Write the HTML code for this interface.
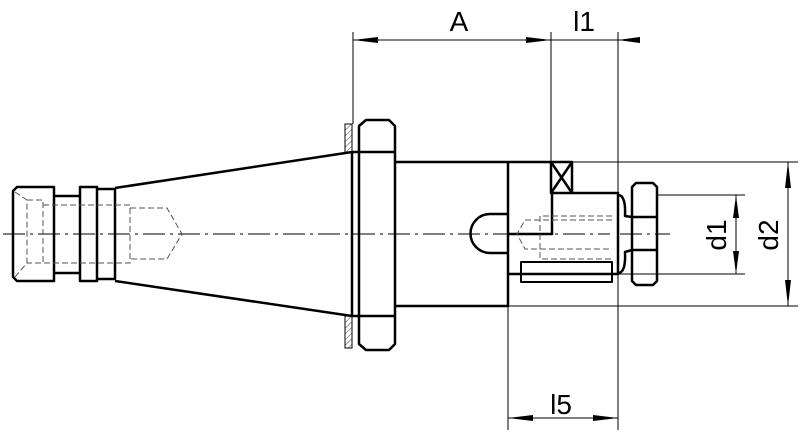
<!DOCTYPE html><html><head><style>body{margin:0;background:#fff}svg{display:block}</style></head><body>
<svg width="800" height="440" viewBox="0 0 800 440" xmlns="http://www.w3.org/2000/svg">
<defs><pattern id="h" width="4" height="4" patternUnits="userSpaceOnUse" patternTransform="rotate(45)"><line x1="0" y1="0" x2="0" y2="4" stroke="#555" stroke-width="1"/></pattern></defs>
<g fill="none" stroke="#000" stroke-width="1">
<!-- extension lines -->
<line x1="353" y1="32" x2="353" y2="124"/>
<line x1="551" y1="32" x2="551" y2="162"/>
<line x1="618" y1="32" x2="618" y2="430"/>
<line x1="508" y1="306" x2="508" y2="430"/>
<line x1="572" y1="162" x2="798" y2="162"/>
<line x1="508" y1="306" x2="798" y2="306"/>
<line x1="657" y1="195" x2="745" y2="195"/>
<line x1="618" y1="274" x2="745" y2="274"/>
<!-- dim lines -->
<line x1="353" y1="40" x2="640" y2="40"/>
<line x1="508" y1="418" x2="618" y2="418"/>
<line x1="736" y1="195" x2="736" y2="274"/>
<line x1="788" y1="162" x2="788" y2="306"/>
<!-- centerline -->
<line x1="3" y1="234" x2="610" y2="234" stroke-dasharray="22,5,3,5"/>
<line x1="620" y1="234" x2="670" y2="234" stroke-dasharray="22,5,3,5"/>
</g>
<g fill="#000">
<polygon points="353,40 378,37 378,43"/>
<polygon points="551,40 526,37 526,43"/>
<polygon points="618,40 640,37 640,43"/>
<polygon points="508,418 533,415 533,421"/>
<polygon points="618,418 593,415 593,421"/>
<polygon points="736,195 733,218 739,218"/>
<polygon points="736,274 733,251 739,251"/>
<polygon points="788,162 785,188 791,188"/>
<polygon points="788,306 785,280 791,280"/>
</g>
<!-- hatched plates -->
<rect x="345" y="124" width="7" height="28" fill="url(#h)" stroke="#000" stroke-width="1"/>
<rect x="345" y="316" width="7" height="32" fill="url(#h)" stroke="#000" stroke-width="1"/>
<g fill="none" stroke="#000" stroke-width="2.5" stroke-linejoin="round">
<path d="M17,187 H54 V281 H17 L13,277 V191 Z"/>
<path d="M54,196 H80 M54,273 H80"/>
<rect x="80" y="187" width="17" height="94"/>
<path d="M97,189 H115 V279 H97"/>
<path d="M115,188 L352,152 M115,281 L352,316"/>
<line x1="352" y1="152" x2="352" y2="316"/>
<path d="M366,120 H389 L395,126 V344 L389,350 H366 L359,344 V126 Z"/>
<path d="M352,152 H395 M352,316 H395"/>
<path d="M395,162 H551 M395,306 H508 V162"/>
<rect x="551" y="162" width="21" height="31"/>
<path d="M551,162 L572,193 M572,162 L551,193"/>
<path d="M572,193 H618 V274 H508 M552,193 V234 H508"/>
<path d="M508,214 H490 A19,19 0 0 0 490,253 H508"/>
<rect x="521" y="262" width="91" height="20" stroke-width="2"/>
<path d="M636,183 H653 L657,187 V281 L653,285 H636 L632,281 V187 Z"/>
<path d="M632,217 H657 M632,250 H657"/>
<path d="M618,195 Q626,195 625,216 L632,217 M618,273 Q626,273 625,252 L632,250"/>
</g>
<g fill="none" stroke="#555" stroke-width="1" stroke-dasharray="6,3">
<path d="M15,192 L27,200 V263 L15,277 M27,200 H43 V263 H27 M43,205 H130 V263 H43 M130,208 H167 L182,234 L167,259 H130"/>
<path d="M612,216 H540 V259 H612 M612,220 H525 L517,234 L525,249 H612"/>
</g>
<g font-family="Liberation Sans, sans-serif" font-size="28" fill="#000">
<text x="459" y="31" text-anchor="middle">A</text>
<text x="584" y="31" text-anchor="middle">l1</text>
<text x="561" y="414" text-anchor="middle">l5</text>
<text transform="translate(726,235) rotate(-90)" text-anchor="middle">d1</text>
<text transform="translate(778,235) rotate(-90)" text-anchor="middle">d2</text>
</g>
</svg>
</body></html>
